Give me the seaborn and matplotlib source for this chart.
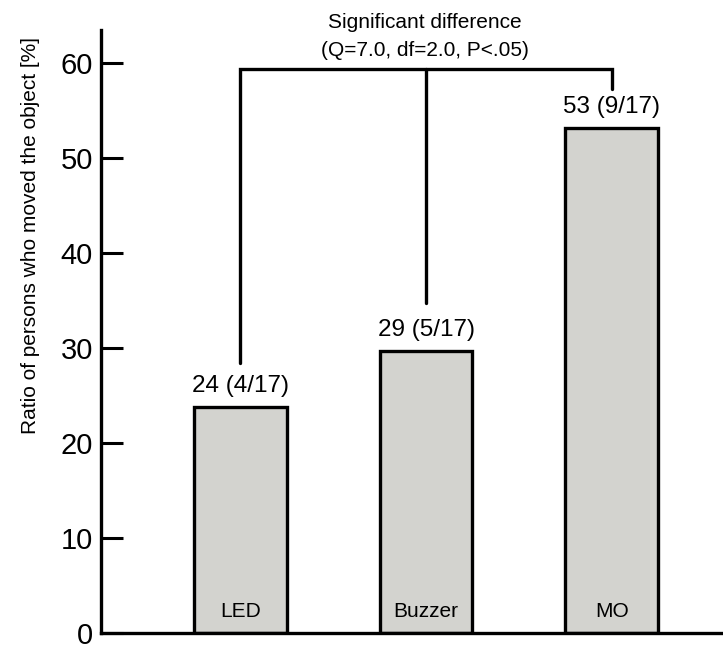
import matplotlib
matplotlib.use("Agg")
import matplotlib.pyplot as plt
import seaborn as sns
import pandas as pd

# data
categories = ["LED", "Buzzer", "MO"]
ratios = [23.8, 29.7, 53.2]
bar_labels = ["24 (4/17)", "29 (5/17)", "53 (9/17)"]

# significance bracket (y levels in data units)
bracket_top = 59.4
bracket_ends = [28.4, 34.7, 57.3]

sns.set_style("ticks")
plt.rcParams['font.family'] = ['Liberation Sans', 'DejaVu Sans']
plt.rcParams['text.color'] = 'black'
plt.rcParams['axes.labelcolor'] = 'black'
plt.rcParams['ytick.color'] = 'black'
plt.rcParams['axes.edgecolor'] = 'black'

df = pd.DataFrame({"cond": categories, "ratio": ratios})

fig = plt.figure(figsize=(7.23, 6.45), dpi=100)
ax = fig.add_axes([0.14, 0.0186, 0.86, 0.9349])

sns.barplot(data=df, x="cond", y="ratio", color="#d3d3cf", width=0.5,
            edgecolor="black", linewidth=2.4, saturation=1, ax=ax)

ax.set_xlim(-0.75, 2.6)
ax.set_ylim(0, 63.5)
ax.set_yticks(range(0, 61, 10))
ax.tick_params(axis="y", direction="in", length=16, width=2.2, labelsize=21, pad=6,
               colors="black")
ax.tick_params(axis="x", length=0, labelbottom=False)
for s in ["left", "bottom"]:
    ax.spines[s].set_linewidth(2.4)
    ax.spines[s].set_color("black")
sns.despine(ax=ax)
ax.set_xlabel("")
ax.set_ylabel("Ratio of persons who moved the object [%]", fontsize=15)
ax.yaxis.set_label_coords(-0.098, 0.66)

for i, (cat, v, lab) in enumerate(zip(categories, ratios, bar_labels)):
    ax.text(i, v + 1.0, lab, ha="center", va="bottom", fontsize=17.5)
    ax.text(i, 1.3, cat, ha="center", va="bottom", fontsize=15)

# bracket
ax.plot([0, 0, 2, 2], [bracket_ends[0], bracket_top, bracket_top, bracket_ends[2]],
        color="black", lw=2.4, solid_joinstyle="miter", clip_on=False)
ax.plot([1, 1], [bracket_ends[1], bracket_top], color="black", lw=2.4, clip_on=False)

fig.text(0.588, 0.965, "Significant difference", ha="center", va="center", fontsize=15)
fig.text(0.588, 0.922, "(Q=7.0, df=2.0, P<.05)", ha="center", va="center", fontsize=15)

fig.savefig("out.png", dpi=100)
